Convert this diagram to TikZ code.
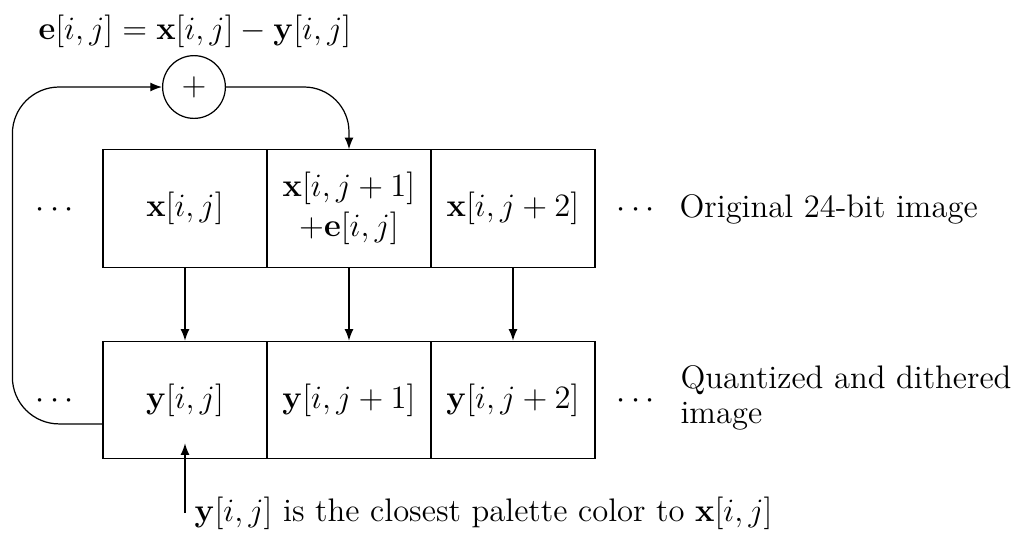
\documentclass[tikz,border=0pt]{standalone}
\usetikzlibrary{arrows.meta}
\begin{document}
\begin{tikzpicture}[x=0.368pt,y=-0.368pt,
  font=\fontsize{12}{14.5}\selectfont,
  line width=0.45pt,
  cell/.style={draw,minimum width=60.35pt,minimum height=43.2pt,inner sep=0pt,align=center},
  arr/.style={-{Latex[length=4.3pt,width=3.3pt]}},
  lbl/.style={inner sep=0pt}]
\useasboundingbox (0,0) rectangle (1019,534);

% top row
\node[cell] (x0) at (185,208.5) {$\mathbf{x}[i,j]$};
\node[cell] (x1) at (349,208.5) {$\mathbf{x}[i,j+1]$\\$+\mathbf{e}[i,j]$};
\node[cell] (x2) at (513,208.5) {$\mathbf{x}[i,j+2]$};
% bottom row
\node[cell] (y0) at (185,400) {$\mathbf{y}[i,j]$};
\node[cell] (y1) at (349,400) {$\mathbf{y}[i,j+1]$};
\node[cell] (y2) at (513,400) {$\mathbf{y}[i,j+2]$};

% dots
\node[lbl,anchor=base] (d1) at (55,217.5) {$\cdots$};
\node[lbl,anchor=base] (d2) at (55,408.5) {$\cdots$};
\node[lbl,anchor=base] (d3) at (636,217.5) {$\cdots$};
\node[lbl,anchor=base] (d4) at (636,408.5) {$\cdots$};

% labels
\node[lbl,anchor=base west] (orig) at (679,217) {Original 24-bit image};
\node[lbl,anchor=west,align=left,font=\fontsize{12}{12.7}\selectfont] (quant) at (680,398) {Quantized and dithered\\image};
\node[lbl,anchor=base west] (eq) at (38,39) {$\mathbf{e}[i,j]=\mathbf{x}[i,j]-\mathbf{y}[i,j]$};

% adder
\node[circle,draw,minimum size=23.1pt,inner sep=0pt] (plus) at (194,87) {$+$};

% loop
\draw[arr,rounded corners=17.2pt] ([yshift=-8.8pt]y0.west) -- ++(-90,0) |- (plus.west);
\draw[arr,rounded corners=16.5pt] (plus.east) -| (x1.north);

% vertical arrows
\draw[arr] (x0.south) -- (y0.north);
\draw[arr] (x1.south) -- (y1.north);
\draw[arr] (x2.south) -- (y2.north);

% bottom note
\coordinate (yb) at (185,513);
\node[anchor=west] (note) at (yb) {$\mathbf{y}[i,j]$ is the closest palette color to $\mathbf{x}[i,j]$};
\draw[arr] (yb) -- ([yshift=5.9pt]y0.south);
\end{tikzpicture}
\end{document}
